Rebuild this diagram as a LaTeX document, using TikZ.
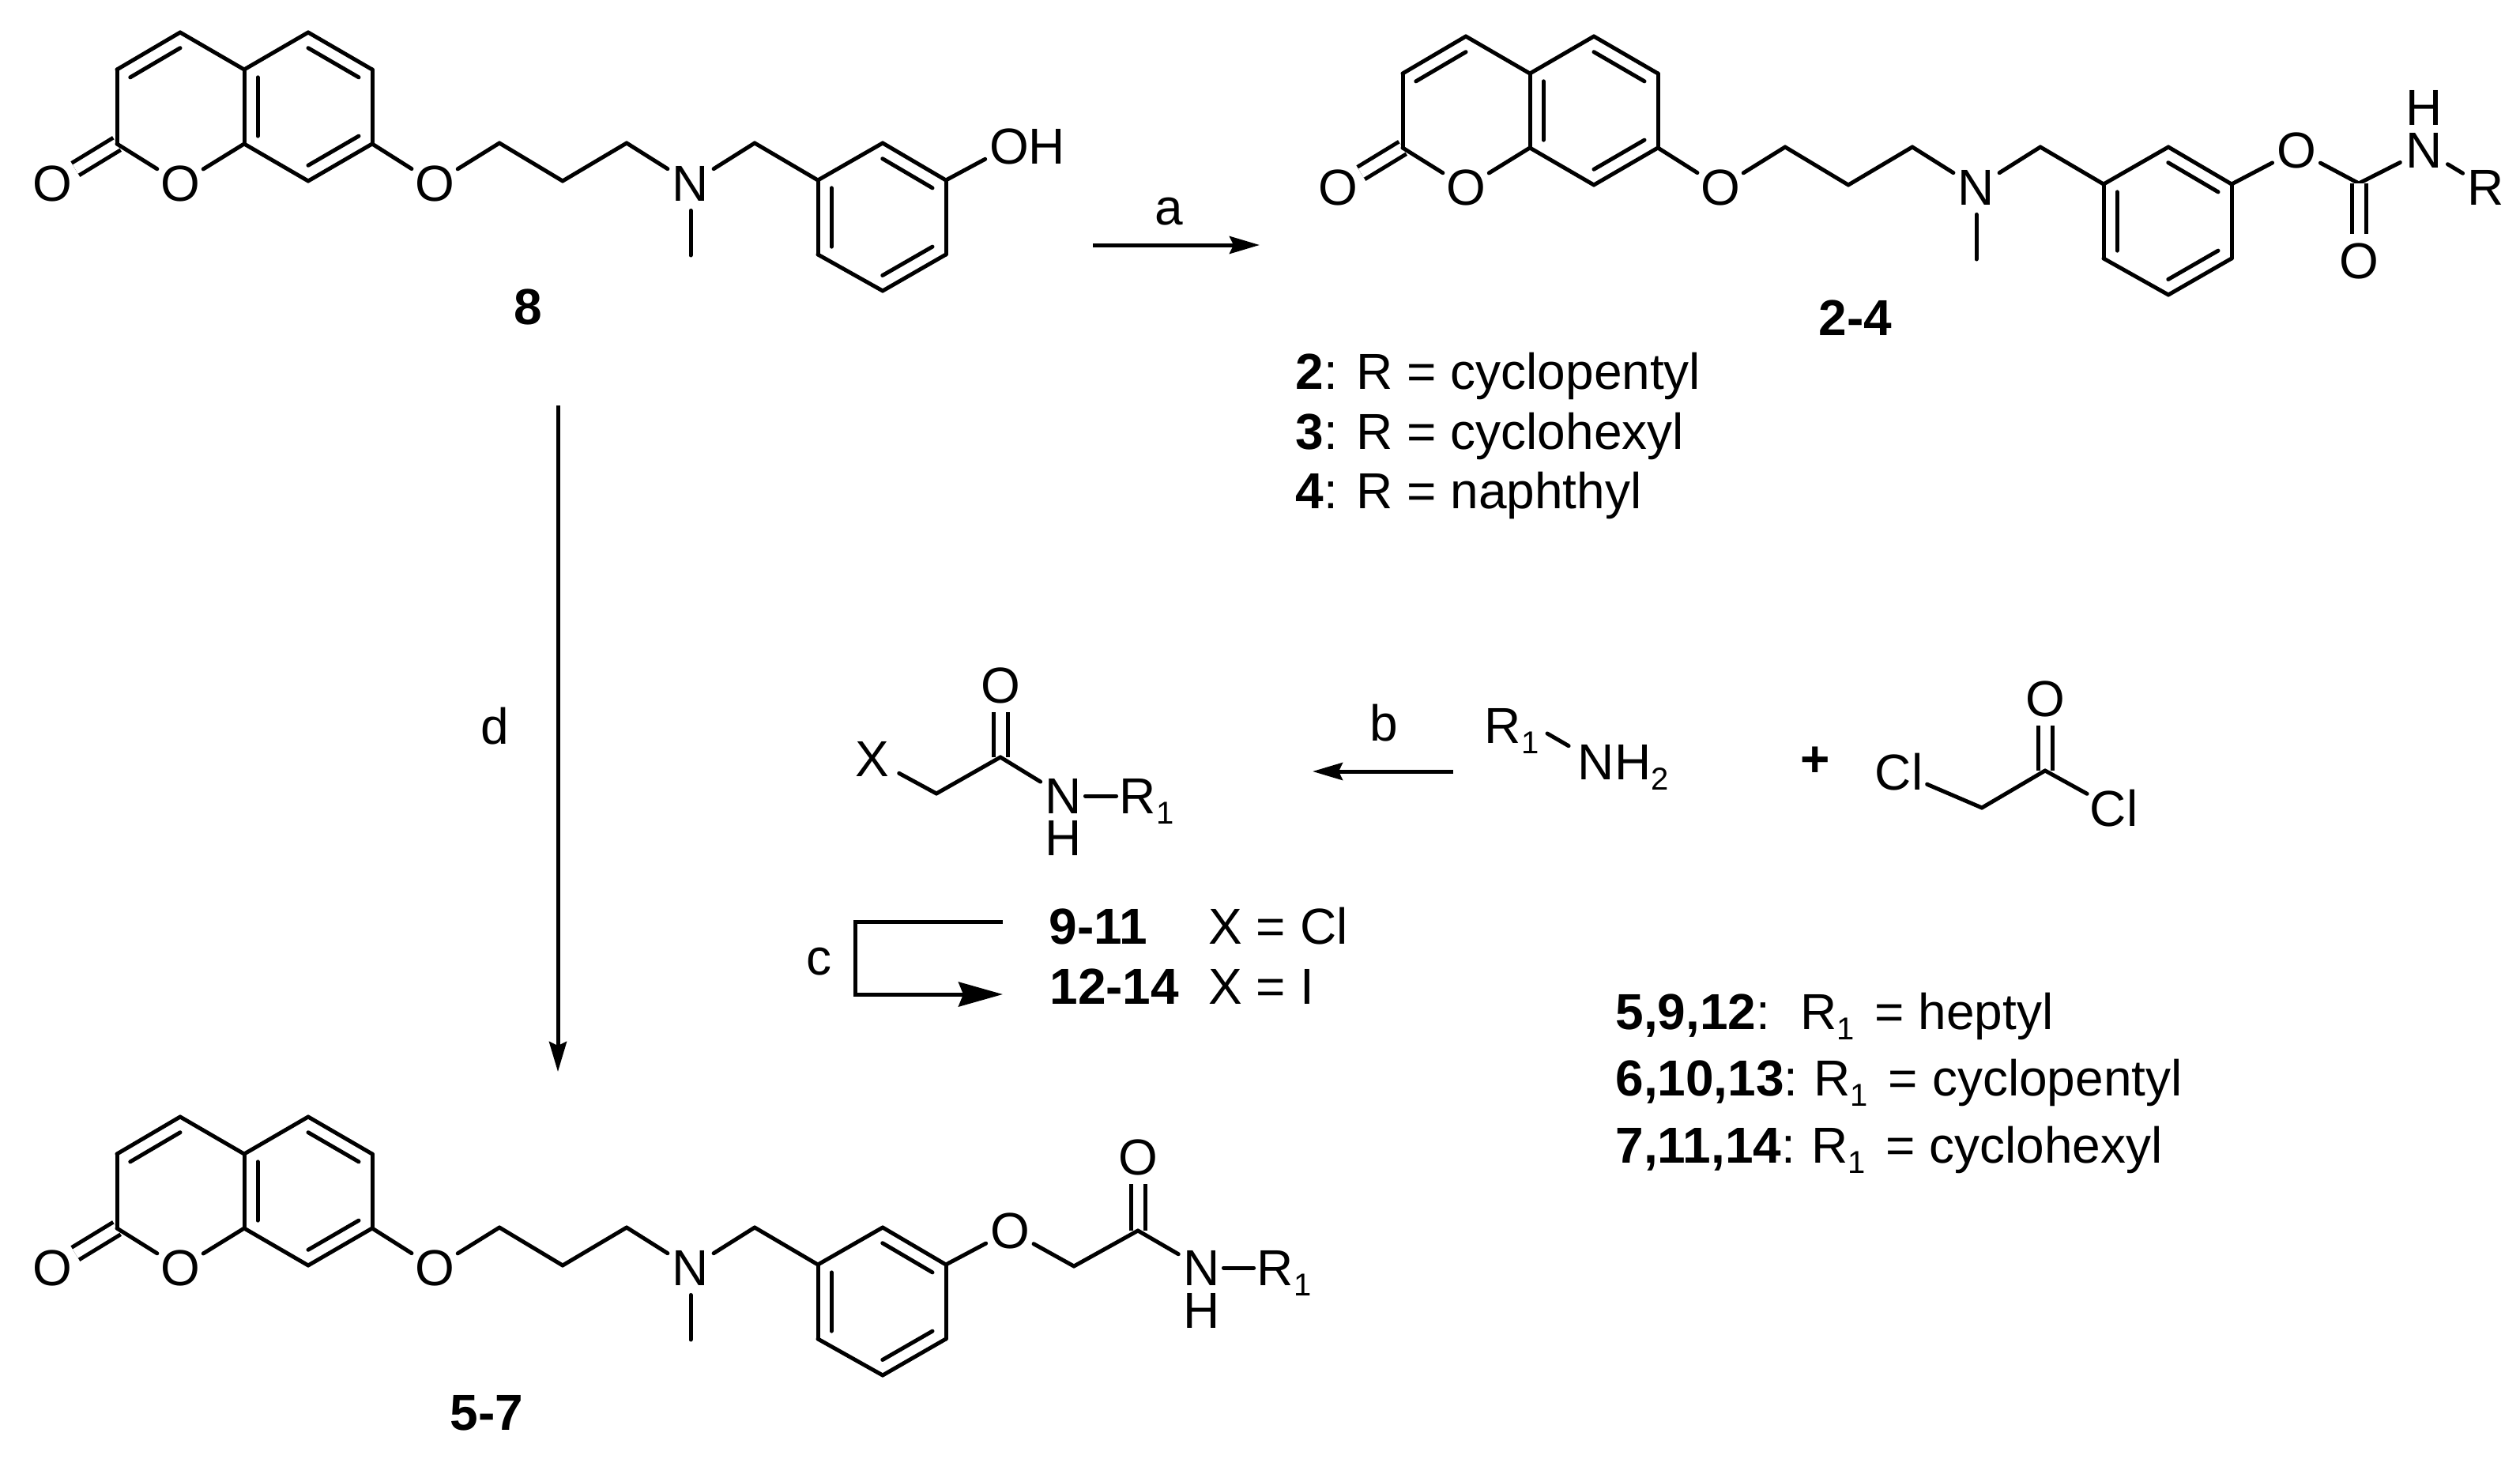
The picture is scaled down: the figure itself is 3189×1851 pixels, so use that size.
\documentclass[tikz,border=0pt]{standalone}
\usepackage{fontspec}
\setmainfont{Liberation Sans}
\usetikzlibrary{calc,arrows.meta}
\newcommand{\sbb}[1]{\raisebox{-6.5pt}{\fontsize{20}{21}\selectfont #1}}
\newcommand{\atomsub}[1]{\smash{\rlap{\sbb{#1}}}}
\newcommand{\ringdbl}[3]{\draw[bond] ($(#1)!.21!(#3)$) -- ($(#2)!.21!(#3)$);}
\tikzset{
  every node/.style={font=\fontsize{32}{37}\selectfont,inner sep=0pt,text=black},
  bond/.style={line width=2.5pt,line cap=round,draw=black},
  dblbond/.style={line width=2.5pt,line cap=butt,draw=black,double=white,double distance=6.5pt},
  longbond/.style={bond,shorten <=-3.5pt,shorten >=-3.5pt},
  atom/.style={circle,minimum size=34pt},
  wideatom/.style={circle,minimum size=38pt},
  txt/.style={anchor=base west},
  num/.style={font=\fontsize{32}{37}\selectfont\bfseries},
  smallarrow/.style={line width=2.5pt,-{Stealth[length=19pt,width=11pt,inset=2.5pt]}},
  bigarrow/.style={line width=2.5pt,miter limit=10,-{Stealth[length=28pt,width=15.5pt,inset=3pt]}},
}
% coumarin, propoxy chain, N-methyl benzyl ring (drawn in a prefixed scope)
\newcommand{\coumarinchain}{%
  \coordinate (c3) at (228,41);
  \coordinate (c4) at (148,88);
  \coordinate (c2) at (148,182);
  \coordinate (c8a) at (309,182);
  \coordinate (c4a) at (309,88);
  \coordinate (c5) at (390,41);
  \coordinate (c6) at (471,88);
  \coordinate (c7) at (471,182);
  \coordinate (c8) at (390,229);
  \coordinate (ca) at (632,181);
  \coordinate (cb) at (712,229);
  \coordinate (cc) at (793,181);
  \coordinate (cd) at (955,181);
  \coordinate (me) at (874,323);
  \coordinate (b1) at (1035,228);
  \coordinate (b2) at (1117,181);
  \coordinate (b3) at (1197,228);
  \coordinate (b4) at (1197,322);
  \coordinate (b5) at (1117,368);
  \coordinate (b6) at (1035,322);
  \coordinate (lc) at (228,135);
  \coordinate (rc) at (390,135);
  \coordinate (bc) at (1116,275);
  \node[atom] (oc) at (66,232) {O};
  \node[atom] (o1) at (228,232) {O};
  \node[atom] (oe) at (550,232) {O};
  \node[atom] (n) at (874,232) {N};
  \draw[dblbond] (c2) -- (oc);
  \draw[bond] (c2) -- (c4);
  \draw[bond] (c4) -- (c3);
  \draw[bond] (c3) -- (c4a);
  \draw[bond] (c4a) -- (c8a);
  \draw[bond] (c2) -- (o1);
  \draw[bond] (o1) -- (c8a);
  \draw[bond] (c4a) -- (c5);
  \draw[bond] (c5) -- (c6);
  \draw[bond] (c6) -- (c7);
  \draw[bond] (c7) -- (c8);
  \draw[bond] (c8) -- (c8a);
  \draw[bond] (c7) -- (oe);
  \draw[bond] (oe) -- (ca);
  \draw[bond] (ca) -- (cb);
  \draw[bond] (cb) -- (cc);
  \draw[bond] (cc) -- (n);
  \draw[bond] (n) -- (cd);
  \draw[bond] (n) -- (me);
  \draw[bond] (cd) -- (b1);
  \draw[bond] (b1) -- (b2);
  \draw[bond] (b2) -- (b3);
  \draw[bond] (b3) -- (b4);
  \draw[bond] (b4) -- (b5);
  \draw[bond] (b5) -- (b6);
  \draw[bond] (b6) -- (b1);
  \ringdbl{c3}{c4}{lc}
  \ringdbl{c4a}{c8a}{rc}
  \ringdbl{c5}{c6}{rc}
  \ringdbl{c7}{c8}{rc}
  \ringdbl{b2}{b3}{bc}
  \ringdbl{b4}{b5}{bc}
  \ringdbl{b6}{b1}{bc}
}
\begin{document}
\begin{tikzpicture}[x=0.5pt,y=-0.5pt]
\useasboundingbox (0,0) rectangle (3189,1851);

% compound 8
\begin{scope}[name prefix=p-]
  \coumarinchain
  \node[atom] (oh) at (1277,185) {O\smash{\rlap{H}}};
  \draw[bond] (b3) -- (oh);
\end{scope}
\node[num] (l8) at (668,388) {8};

% compounds 2-4
\begin{scope}[shift={(1627,5)},name prefix=q-]
  \coumarinchain
  \node[atom] (oc2) at (1279,185) {O};
  \coordinate (cc2) at (1358,227);
  \node[atom] (oo2) at (1358,325) {O};
  \node[atom] (nn2) at (1441,185) {N};
  \node[atom] (hh2) at (1441,131) {H};
  \node[atom] (rr2) at (1519,232) {R};
  \draw[bond] (b3) -- (oc2);
  \draw[bond] (oc2) -- (cc2);
  \draw[bond] (cc2) -- (nn2);
  \draw[dblbond] (cc2) -- (oo2);
  \draw[bond] (nn2) -- (rr2);
\end{scope}
\node[num] (l24) at (2348,402) {2-4};
\node[txt] (t2) at (1639,492) {\textbf{2}: R = cyclopentyl};
\node[txt] (t3) at (1639,568) {\textbf{3}: R = cyclohexyl};
\node[txt] (t4) at (1639,643) {\textbf{4}: R = naphthyl};

% arrow a
\coordinate (as) at (1383,310);
\coordinate (ae) at (1594,310);
\draw[smallarrow] (as) -- (ae);
\node (la) at (1479,268) {a};

% arrow d
\coordinate (ds) at (706,513);
\coordinate (de) at (706,1356);
\draw[smallarrow] (ds) -- (de);
\node (ld) at (626,919) {d};

% chloroacetamide
\coordinate (xa) at (1185,1004);
\coordinate (xc) at (1266,958);
\node[wideatom] (xx) at (1104,960) {X};
\node[atom] (xo) at (1266,867) {O};
\node[atom] (xn) at (1346,1007) {N};
\node[atom] (xh) at (1346,1060) {H};
\node[atom] (xr) at (1440,1007) {R\atomsub{1}};
\draw[dblbond] (xc) -- (xo);
\draw[bond] (xx) -- (xa);
\draw[bond] (xa) -- (xc);
\draw[bond] (xc) -- (xn);
\draw[longbond] (xn) -- (xr);

% arrow b
\coordinate (bs) at (1839,976);
\coordinate (be) at (1661,976);
\draw[smallarrow] (bs) -- (be);
\node (lb) at (1751,915) {b};

% amine
\node[atom] (ar) at (1902,918) {R\atomsub{1}};
\coordinate (ars) at (1958,928);
\node[atom] (an) at (2020,964) {N\smash{\rlap{H\sbb{2}}}};
\draw[bond,shorten >=3pt] (ars) -- (an);
\node[font=\fontsize{32}{37}\selectfont\bfseries] (plus) at (2297,964) {+};

% chloroacetyl chloride
\coordinate (ka) at (2508,1022);
\coordinate (kc) at (2588,975);
\node[wideatom] (kl) at (2403,977) {Cl};
\node[wideatom] (kr) at (2675,1023) {Cl};
\node[atom] (ko) at (2588,884) {O};
\draw[dblbond] (kc) -- (ko);
\draw[bond] (kl) -- (ka);
\draw[bond] (ka) -- (kc);
\draw[bond] (kc) -- (kr);

% arrow c and labels
\coordinate (cs) at (1269,1166);
\coordinate (cb1) at (1082,1166);
\coordinate (cb2) at (1082,1258);
\coordinate (ce) at (1269,1258);
\draw[bigarrow] (cs) -- (cb1) -- (cb2) -- (ce);
\node (lc) at (1036,1217) {c};
\node[txt,num] (l9) at (1327,1194) {9-11};
\node[txt] (l9x) at (1529,1194) {X = Cl};
\node[txt,num] (l12) at (1328,1270) {12-14};
\node[txt] (l12x) at (1529,1270) {X = I};

% R1 list
\node[txt] (r5) at (2044,1302) {\textbf{5,9,12}:\hspace{19pt}R\sbb{1}\hspace{4pt} = heptyl};
\node[txt] (r6) at (2044,1386) {\textbf{6,10,13}:\hspace{10pt}R\sbb{1}\hspace{4pt} = cyclopentyl};
\node[txt] (r7) at (2044,1471) {\textbf{7,11,14}:\hspace{10pt}R\sbb{1}\hspace{4pt} = cyclohexyl};

% compounds 5-7
\begin{scope}[shift={(0,1372)},name prefix=s-]
  \coumarinchain
  \coordinate (m1) at (1359,230);
  \coordinate (m2) at (1440,185);
  \node[atom] (mo) at (1278,185) {O};
  \node[atom] (mq) at (1440,92) {O};
  \node[atom] (mn) at (1521,232) {N};
  \node[atom] (mh) at (1521,286) {H};
  \node[atom] (mr) at (1614,232) {R\atomsub{1}};
  \draw[dblbond] (m2) -- (mq);
  \draw[bond] (b3) -- (mo);
  \draw[bond] (mo) -- (m1);
  \draw[bond] (m1) -- (m2);
  \draw[bond] (m2) -- (mn);
  \draw[longbond] (mn) -- (mr);
\end{scope}
\node[num] (l57) at (616,1788) {5-7};
\end{tikzpicture}
\end{document}
